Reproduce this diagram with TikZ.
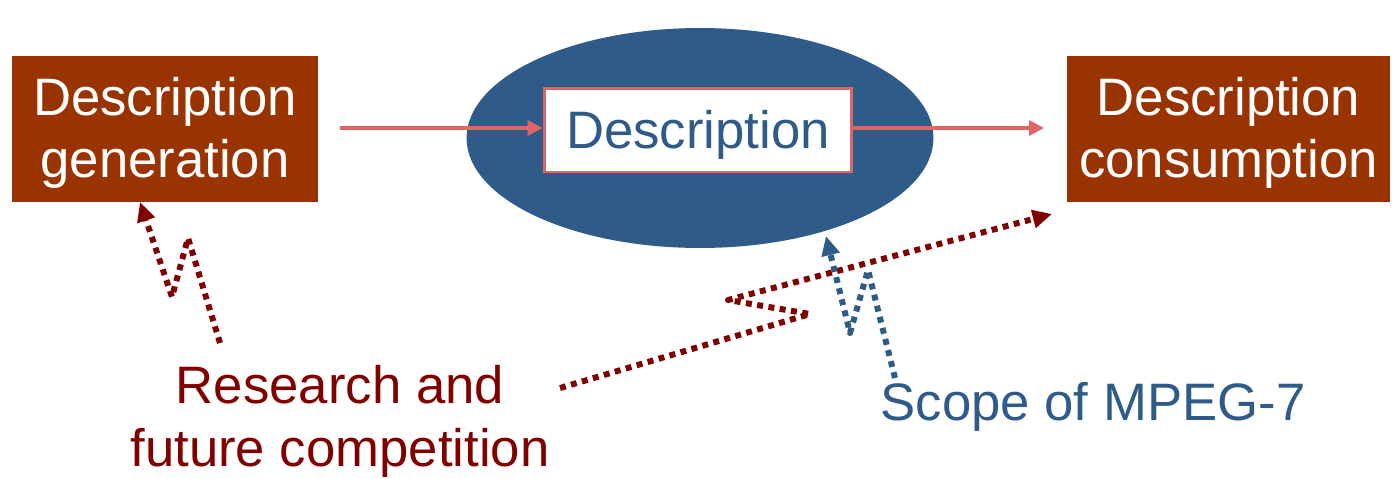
\documentclass[tikz,border=0pt]{standalone}
\usepackage{fontspec}
\setmainfont{Liberation Sans}
\usetikzlibrary{shapes.geometric,arrows.meta}
\definecolor{boxbrown}{HTML}{993300}
\definecolor{scopeblue}{HTML}{2E5B88}
\definecolor{linkpink}{HTML}{E06666}
\definecolor{darkred}{HTML}{800000}
\tikzset{
  bigtext/.style={font=\fontsize{30}{35.7}\selectfont, align=center, inner sep=0pt},
  procbox/.style={fill=boxbrown, minimum height=2.92cm, inner sep=0pt},
  flow/.style={linkpink, line width=1.8pt, -{Triangle[length=8.5pt,width=8.5pt]}},
  dots/.style={line width=3.4pt, dash pattern=on 3.4pt off 3.1pt, line join=round,
    -{Triangle[length=11pt,width=10pt]}},
}
\begin{document}
\begin{tikzpicture}[x=0.02cm, y=-0.02cm]
  \useasboundingbox (0,0) rectangle (1395,478);

  % producer, descriptor, consumer
  \node[procbox, minimum width=6.12cm] (gen) at (165,129) {};
  \node[bigtext, text=white] (gentext) at (165,133) {Description\\generation};
  \node[procbox, minimum width=6.46cm] (cons) at (1228.5,129) {};
  \node[bigtext, text=white] (constext) at (1228.5,133) {Description\\consumption};
  \node[ellipse, fill=scopeblue, minimum width=9.34cm, minimum height=4.4cm, inner sep=0pt] (scope) at (700,138) {};
  \node[fill=white, draw=linkpink, line width=1.7pt,
        minimum width=6.16cm, minimum height=1.68cm, inner sep=0pt] (desc) at (698,130) {};
  \node[bigtext, text=scopeblue] (desctext) at (698,135) {Description};

  % data flow
  \coordinate (in) at (340,128);
  \coordinate (out) at (1044,128);
  \draw[flow] (in) -- (desc.west |- in);
  \draw[flow] (desc.east |- out) -- (out);

  % labels
  \node[bigtext, text=darkred, font=\fontsize{30}{36}\selectfont] (research) at (340,421) {Research and\\future competition};
  \node[bigtext, text=scopeblue] (mpeg) at (1093,407) {Scope of MPEG-7};

  % zigzag pointers
  \coordinate (ra1) at (220,343);
  \coordinate (ra2) at (188,238);
  \coordinate (ra3) at (172,297);
  \coordinate (ra4) at (140,202);
  \draw[dots, darkred] (ra1) -- (ra2) -- (ra3) -- (ra4);

  \coordinate (rb1) at (560,388);
  \coordinate (rb2) at (810,314);
  \coordinate (rb3) at (728,300);
  \coordinate (rb4) at (1052,214);
  \draw[dots, darkred] (rb1) -- (rb2) -- (rb3) -- (rb4);

  \coordinate (sb1) at (895,378);
  \coordinate (sb2) at (868,270);
  \coordinate (sb3) at (850,333);
  \coordinate (sb4) at (826,236);
  \draw[dots, scopeblue] (sb1) -- (sb2) -- (sb3) -- (sb4);
\end{tikzpicture}
\end{document}
